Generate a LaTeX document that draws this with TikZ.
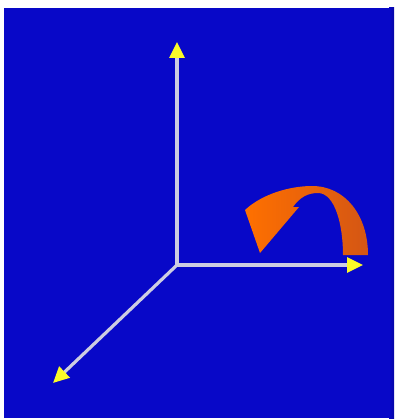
\documentclass[tikz,border=0pt]{standalone}
\usetikzlibrary{arrows.meta}
\definecolor{bgblue}{RGB}{8,8,200}
\definecolor{bgdark}{RGB}{5,5,165}
\definecolor{axisgray}{RGB}{205,205,225}
\definecolor{tipyellow}{RGB}{250,250,40}
\definecolor{orangeL}{RGB}{255,112,0}
\definecolor{orangeR}{RGB}{212,86,20}
\tikzset{
  axisline/.style={draw=axisgray, line width=3.2pt,
    -{Triangle[length=16pt,width=15pt,color=tipyellow,fill=tipyellow]}},
  rotarrow/.style={left color=orangeL, right color=orangeR, draw=none}
}
\begin{document}
\begin{tikzpicture}[x=1pt,y=-1pt]
\useasboundingbox (0,0) rectangle (394,420);
\fill[white] (0,0) rectangle (394,420);
\fill[bgblue] (4,8) rectangle (394,418);
\fill[right color=bgdark,left color=bgblue] (389,8) rectangle (394,418);
\coordinate (O) at (177,265);
\coordinate (Ztip) at (177,42);
\coordinate (Xtip) at (363,265);
\coordinate (Ytip) at (53,383);
\draw[axisline] (O) -- (Ztip);
\draw[axisline] (O) -- (Xtip);
\draw[axisline] (O) -- (Ytip);
\path[rotarrow] (368,255) .. controls (368,215) and (345,186) .. (312,186)
  .. controls (290,186) and (262,194) .. (245,210)
  -- (260,253) -- (299,207) -- (293,207)
  .. controls (300,197) and (308,193) .. (318,193)
  .. controls (335,193) and (343,225) .. (343,255) -- cycle;
\end{tikzpicture}
\end{document}
